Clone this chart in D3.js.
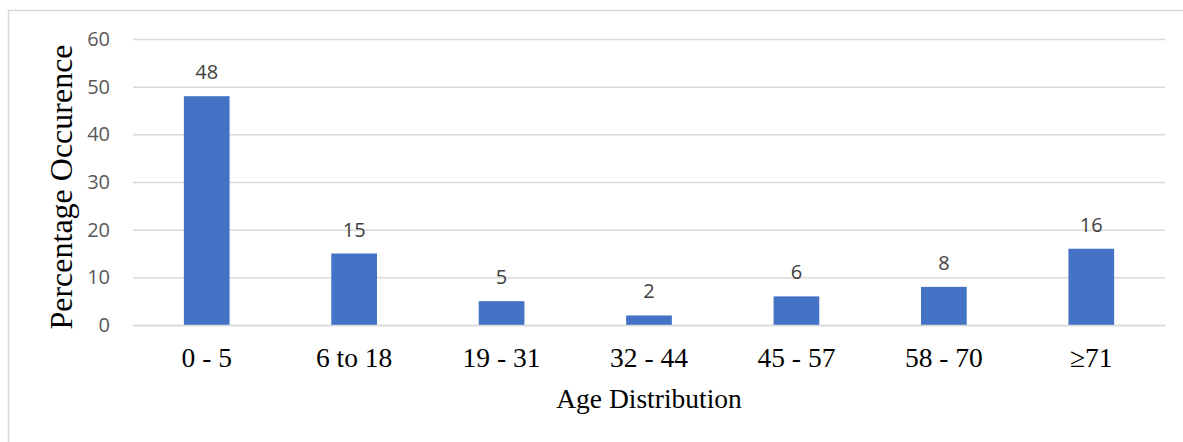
<!DOCTYPE html>
<html>
<head>
<meta charset="utf-8">
<script src="https://cdn.jsdelivr.net/npm/d3@7"></script>
<style>
  html, body { margin: 0; padding: 0; background: #fff; }
  svg { display: block; }
</style>
</head>
<body>
<div id="chart"></div>
<script>
// Age groups and share of occurrences (%)
const categories = ["0 - 5", "6 to 18", "19 - 31", "32 - 44", "45 - 57", "58 - 70", "\u226571"];
const values = [48, 15, 5, 2, 6, 8, 16];
const yTicks = [0, 10, 20, 30, 40, 50, 60];
const xTitle = "Age Distribution";
const yTitle = "Percentage Occurence";

const width = 1183, height = 442;
const margin = { left: 133, right: 18, top: 39, bottom: 117 };

const svg = d3.select("#chart").append("svg")
  .attr("width", width)
  .attr("height", height);

// Chart frame
svg.append("rect")
  .attr("x", 8.5).attr("y", 10.5)
  .attr("width", width + 10).attr("height", height + 10)
  .attr("fill", "none")
  .attr("stroke", "#d9d9d9")
  .attr("stroke-width", 1.5);

const x = d3.scaleBand()
  .domain(categories)
  .range([margin.left, width - margin.right])
  .paddingInner(0.69)
  .paddingOuter(0.345);

const y = d3.scaleLinear()
  .domain([0, 60])
  .range([height - margin.bottom, margin.top]);

// Horizontal gridlines
const yAxis = d3.axisLeft(y)
  .tickValues(yTicks)
  .tickSize(-(width - margin.left - margin.right))
  .tickPadding(23)
  .tickFormat(d3.format("d"));

const gy = svg.append("g")
  .attr("transform", `translate(${margin.left},0)`)
  .call(yAxis);
gy.select(".domain").remove();
gy.selectAll(".tick line")
  .attr("stroke", "#d9d9d9")
  .attr("stroke-width", 1.5);
gy.selectAll(".tick text")
  .attr("fill", "#595959")
  .style("font-family", "'Open Sans', sans-serif")
  .style("font-size", "20px");

// Bars
svg.append("g").selectAll("rect")
  .data(values)
  .join("rect")
  .attr("x", (d, i) => x(categories[i]))
  .attr("y", d => y(d))
  .attr("width", x.bandwidth())
  .attr("height", d => y(0) - y(d))
  .attr("fill", "#4472c4");

// Value labels
svg.append("g").selectAll("text")
  .data(values)
  .join("text")
  .attr("x", (d, i) => x(categories[i]) + x.bandwidth() / 2)
  .attr("y", d => y(d) - 17)
  .attr("text-anchor", "middle")
  .attr("fill", "#404040")
  .style("font-family", "'Open Sans', sans-serif")
  .style("font-size", "20px")
  .text(d => d);

// Category axis
const xAxis = d3.axisBottom(x).tickSize(0).tickPadding(0);
const gx = svg.append("g")
  .attr("transform", `translate(0,${y(0)})`)
  .call(xAxis);
gx.select(".domain")
  .attr("stroke", "#d9d9d9")
  .attr("stroke-width", 1.5);
gx.selectAll(".tick text")
  .attr("dy", null)
  .attr("y", 42)
  .attr("fill", "#000")
  .style("font-family", "'Liberation Serif', 'Times New Roman', serif")
  .style("font-size", "27.5px");

// Axis titles
svg.append("text")
  .attr("x", (margin.left + width - margin.right) / 2)
  .attr("y", 408)
  .attr("text-anchor", "middle")
  .attr("fill", "#000")
  .style("font-family", "'Liberation Serif', 'Times New Roman', serif")
  .style("font-size", "27.5px")
  .text(xTitle);

svg.append("text")
  .attr("transform", `translate(72,187) rotate(-90)`)
  .attr("text-anchor", "middle")
  .attr("fill", "#000")
  .style("font-family", "'Liberation Serif', 'Times New Roman', serif")
  .style("font-size", "32px")
  .text(yTitle);
</script>
</body>
</html>
